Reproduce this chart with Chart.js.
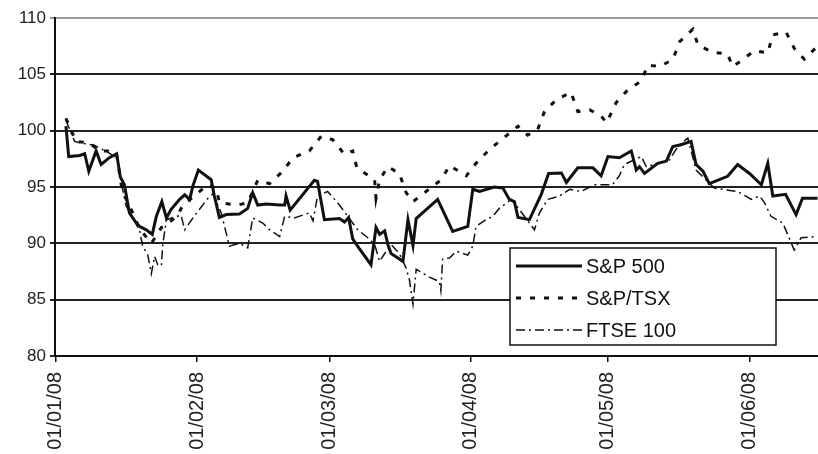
<!DOCTYPE html>
<html>
<head>
<meta charset="utf-8">
<script src="https://cdn.jsdelivr.net/npm/chart.js@4/dist/chart.umd.min.js"></script>
<style>
  body { margin: 0; background: #fff; }
  #wrap { width: 818px; height: 454px; }
</style>
</head>
<body>
<div id="wrap"><canvas id="idx" width="818" height="454"></canvas></div>
<script>
// x values are days since 01/01/08
const monthTickDays = [0, 31, 60, 91, 121, 152];
const monthTickLabels = ['01/01/08', '01/02/08', '01/03/08', '01/04/08', '01/05/08', '01/06/08'];

const spxDays = [2.3, 2.9, 5.3, 6.4, 7.3, 8.9, 10.0, 11.8, 13.4, 14.2, 15.1, 15.8, 16.2, 17.7, 18.4, 19.9, 21.2, 22.1, 23.3, 24.3, 25.3, 27.2, 28.3, 29.4, 30.1, 31.3, 34.1, 34.8, 35.9, 37.4, 40.3, 42.1, 43.2, 44.3, 46.1, 49.1, 50.2, 50.5, 51.4, 56.7, 57.4, 58.9, 62.2, 63.3, 64.2, 65.1, 66.6, 69.1, 70.2, 71.0, 72.1, 72.8, 73.5, 76.1, 77.2, 78.3, 79.0, 83.7, 87.0, 90.3, 91.4, 92.9, 96.1, 98.0, 99.4, 100.5, 101.3, 103.8, 106.4, 108.0, 110.8, 111.9, 114.4, 117.7, 119.5, 121.0, 123.5, 126.1, 127.2, 127.9, 129.0, 131.9, 133.8, 135.2, 137.0, 139.2, 140.3, 141.8, 143.2, 147.2, 149.4, 152.0, 154.6, 156.0, 157.1, 159.9, 162.2, 163.6, 166.9];
const spxValues = [100.4, 97.7, 97.8, 97.95, 96.4, 98.2, 97.0, 97.6, 97.95, 95.9, 95.2, 93.6, 92.7, 91.8, 91.5, 91.2, 90.8, 92.4, 93.7, 92.25, 93.0, 93.9, 94.3, 93.9, 95.1, 96.5, 95.65, 94.2, 92.3, 92.55, 92.6, 93.1, 94.5, 93.4, 93.5, 93.4, 93.4, 94.2, 92.95, 95.6, 95.5, 92.1, 92.2, 91.9, 92.3, 90.4, 89.5, 88.1, 91.4, 90.8, 91.1, 89.9, 89.1, 88.4, 92.1, 89.8, 92.2, 93.9, 91.05, 91.5, 94.8, 94.6, 95.0, 94.9, 93.9, 93.7, 92.3, 92.1, 94.35, 96.2, 96.25, 95.4, 96.7, 96.7, 96.0, 97.7, 97.6, 98.2, 96.5, 96.8, 96.2, 97.1, 97.3, 98.6, 98.75, 99.05, 97.0, 96.4, 95.3, 95.95, 97.0, 96.2, 95.2, 97.1, 94.2, 94.35, 92.55, 94.0, 94.0];

const tsxDays = [2.3, 4.5, 7.5, 9.6, 11.5, 13.4, 14.4, 15.5, 17.3, 18.4, 21.0, 23.2, 23.9, 26.8, 27.9, 30.4, 33.3, 35.2, 35.9, 39.9, 42.1, 44.3, 46.9, 49.8, 52.0, 55.6, 58.2, 60.7, 63.3, 65.1, 66.0, 69.9, 70.2, 71.0, 72.8, 75.3, 76.8, 78.3, 84.5, 86.3, 90.0, 92.1, 95.1, 98.3, 101.3, 103.4, 105.6, 107.1, 109.7, 112.9, 114.4, 117.0, 119.5, 120.7, 122.8, 125.3, 128.3, 129.7, 132.3, 135.2, 136.7, 139.6, 140.7, 144.0, 147.2, 148.3, 149.8, 153.1, 156.0, 157.1, 160.0, 161.8, 164.0, 166.9];
const tsxValues = [101.1, 99.05, 98.9, 98.2, 98.2, 97.9, 95.2, 93.9, 92.4, 91.3, 90.0, 91.4, 91.5, 92.5, 93.4, 94.2, 95.2, 94.9, 93.6, 93.4, 93.6, 95.6, 95.3, 96.4, 97.6, 98.2, 99.5, 99.2, 97.9, 98.2, 96.7, 95.65, 94.0, 95.65, 96.8, 96.2, 94.5, 93.7, 95.65, 96.9, 96.0, 97.1, 98.35, 99.4, 100.4, 99.6, 100.1, 101.7, 102.75, 103.4, 101.7, 101.85, 101.3, 100.7, 102.5, 103.6, 104.4, 105.8, 105.7, 106.3, 107.9, 109.0, 107.6, 106.95, 106.8, 105.7, 106.1, 107.1, 106.9, 108.5, 108.75, 107.3, 106.35, 107.5];

const ftseDays = [2.3, 4.2, 5.6, 8.5, 11.8, 13.6, 14.4, 15.5, 18.4, 19.1, 20.2, 21.0, 21.7, 22.4, 23.2, 23.5, 24.3, 27.5, 28.3, 30.1, 33.4, 34.5, 36.3, 38.1, 40.3, 42.1, 43.2, 45.4, 46.9, 49.1, 50.2, 52.3, 55.6, 56.4, 57.4, 59.6, 62.2, 64.0, 66.2, 68.4, 69.9, 71.0, 72.1, 73.5, 75.3, 76.8, 77.5, 78.3, 79.0, 81.9, 84.1, 84.4, 84.8, 86.3, 87.8, 90.3, 91.4, 92.1, 94.3, 95.8, 97.2, 99.8, 101.6, 104.9, 106.0, 107.8, 110.4, 112.6, 115.1, 118.0, 122.0, 123.5, 124.6, 128.3, 129.4, 134.5, 135.7, 136.7, 138.5, 140.3, 144.3, 149.4, 152.4, 154.2, 155.3, 156.7, 159.3, 161.8, 163.3, 166.9];
const ftseValues = [100.9, 99.05, 98.9, 98.7, 98.0, 97.5, 95.35, 93.3, 91.2, 89.75, 89.0, 87.3, 88.85, 88.1, 88.0, 89.9, 92.1, 92.5, 91.2, 92.25, 94.0, 94.4, 92.7, 89.75, 90.0, 89.6, 92.25, 91.8, 91.2, 90.6, 92.4, 92.25, 92.7, 92.0, 94.2, 94.6, 93.4, 92.4, 91.2, 90.5, 89.9, 88.4, 89.1, 89.9, 89.1, 87.8, 86.8, 84.6, 87.7, 87.0, 86.6, 85.8, 88.6, 88.7, 89.3, 88.95, 89.75, 91.5, 92.1, 92.4, 93.1, 93.9, 93.0, 91.2, 92.7, 93.9, 94.2, 94.8, 94.6, 95.2, 95.2, 96.0, 97.0, 97.7, 96.8, 97.4, 98.2, 98.75, 99.35, 96.5, 94.9, 94.6, 93.9, 94.2, 93.6, 92.4, 91.8, 89.4, 90.5, 90.6];

function toPoints(days, values) {
  return days.map((d, i) => ({ x: d, y: values[i] }));
}

// legend drawn inside the plot, like the original
const boxLegend = {
  id: 'boxLegend',
  afterDraw(chart) {
    const ctx = chart.ctx;
    const left = 510, top = 248, w = 266, h = 97;
    ctx.save();
    ctx.fillStyle = '#fff';
    ctx.fillRect(left, top, w, h);
    ctx.strokeStyle = '#111';
    ctx.lineWidth = 1.5;
    ctx.strokeRect(left, top, w, h);
    ctx.font = '20px "Liberation Sans", Arial, sans-serif';
    ctx.fillStyle = '#111';
    ctx.textBaseline = 'middle';
    chart.data.datasets.forEach((ds, i) => {
      const y = top + 18 + i * 32;
      ctx.beginPath();
      ctx.setLineDash(ds.borderDash || []);
      ctx.lineWidth = ds.borderWidth;
      ctx.strokeStyle = ds.borderColor;
      ctx.moveTo(left + 6, y);
      ctx.lineTo(left + 72, y);
      ctx.stroke();
      ctx.setLineDash([]);
      ctx.fillText(ds.label, left + 76, y + 1);
    });
    ctx.restore();
  }
};

new Chart(document.getElementById('idx'), {
  type: 'line',
  data: {
    datasets: [
      {
        label: 'S&P 500',
        data: toPoints(spxDays, spxValues),
        borderColor: '#111',
        borderWidth: 3,
        pointRadius: 0,
        tension: 0
      },
      {
        label: 'S&P/TSX',
        data: toPoints(tsxDays, tsxValues),
        borderColor: '#111',
        borderWidth: 3,
        borderDash: [5, 9],
        pointRadius: 0,
        tension: 0
      },
      {
        label: 'FTSE 100',
        data: toPoints(ftseDays, ftseValues),
        borderColor: '#111',
        borderWidth: 1.5,
        borderDash: [9, 4, 2, 4],
        pointRadius: 0,
        tension: 0
      }
    ]
  },
  options: {
    responsive: false,
    animation: false,
    layout: { padding: { top: 18, right: 0, left: 0, bottom: 0 } },
    plugins: {
      legend: { display: false },
      tooltip: { enabled: false }
    },
    scales: {
      x: {
        type: 'linear',
        min: -0.1,
        max: 167,
        afterBuildTicks(scale) {
          scale.ticks = monthTickDays.map(v => ({ value: v }));
        },
        afterFit(scale) { scale.height = 98; },
        ticks: {
          autoSkip: false,
          minRotation: 90,
          maxRotation: 90,
          padding: 10,
          color: '#222',
          font: { family: '"Liberation Sans", Arial, sans-serif', size: 20 },
          callback: (v) => monthTickLabels[monthTickDays.indexOf(v)] || ''
        },
        grid: { drawOnChartArea: false, drawTicks: true, tickLength: 6, color: '#111', lineWidth: 1.5 },
        border: { color: '#111', width: 2 }
      },
      y: {
        min: 80,
        max: 110,
        afterFit(scale) { scale.width = 55; },
        ticks: {
          stepSize: 5,
          padding: 4,
          color: '#222',
          font: { family: '"Liberation Sans", Arial, sans-serif', size: 17 }
        },
        grid: {
          color: (c) => c.tick && c.tick.value === 110 ? '#9a9a9a' : '#222',
          lineWidth: 2,
          tickLength: 5
        },
        border: { color: '#111', width: 2 }
      }
    }
  },
  plugins: [boxLegend]
});
</script>
</body>
</html>
